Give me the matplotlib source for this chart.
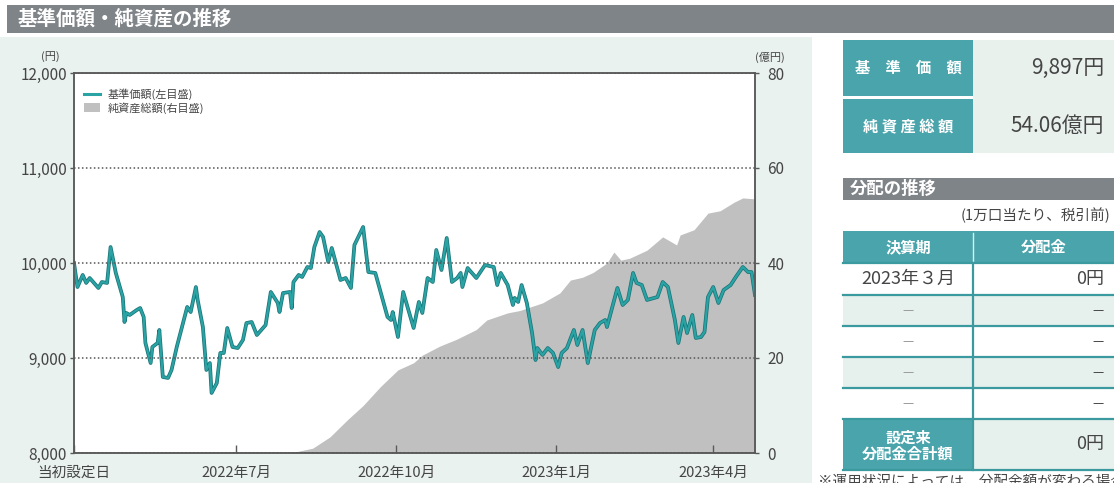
import matplotlib
matplotlib.use('Agg')
import matplotlib.pyplot as plt
import matplotlib.patheffects as pe
from matplotlib.patches import Rectangle, Patch
from matplotlib.lines import Line2D
import pandas as pd

plt.rcParams['font.family'] = ['Noto Sans CJK JP', 'DejaVu Sans']

# ---------------- data ----------------
nav_dates = [
    '2022-03-30', '2022-04-01', '2022-04-04', '2022-04-06', '2022-04-08', '2022-04-10', '2022-04-13',
    '2022-04-15', '2022-04-18', '2022-04-20', '2022-04-23', '2022-04-27', '2022-04-28', '2022-04-29',
    '2022-05-01', '2022-05-05', '2022-05-07', '2022-05-09', '2022-05-10', '2022-05-13', '2022-05-14',
    '2022-05-17', '2022-05-18', '2022-05-20', '2022-05-23', '2022-05-25', '2022-05-28', '2022-05-31',
    '2022-06-03', '2022-06-05', '2022-06-08', '2022-06-09', '2022-06-12', '2022-06-14', '2022-06-16',
    '2022-06-17', '2022-06-20', '2022-06-22', '2022-06-24', '2022-06-26', '2022-06-29', '2022-07-02',
    '2022-07-05', '2022-07-07', '2022-07-10', '2022-07-13', '2022-07-18', '2022-07-21', '2022-07-25',
    '2022-07-26', '2022-07-28', '2022-08-01', '2022-08-02', '2022-08-03', '2022-08-06', '2022-08-08',
    '2022-08-11', '2022-08-13', '2022-08-15', '2022-08-18', '2022-08-20', '2022-08-23', '2022-08-25',
    '2022-08-30', '2022-09-02', '2022-09-05', '2022-09-07', '2022-09-12', '2022-09-15', '2022-09-19',
    '2022-09-26', '2022-09-28', '2022-09-29', '2022-10-02', '2022-10-05', '2022-10-11', '2022-10-14',
    '2022-10-16', '2022-10-19', '2022-10-22', '2022-10-24', '2022-10-27', '2022-10-30', '2022-11-02',
    '2022-11-05', '2022-11-07', '2022-11-08', '2022-11-11', '2022-11-16', '2022-11-21', '2022-11-26',
    '2022-11-28', '2022-11-30', '2022-12-04', '2022-12-07', '2022-12-08', '2022-12-10', '2022-12-12',
    '2022-12-15', '2022-12-18', '2022-12-20', '2022-12-21', '2022-12-24', '2022-12-27', '2022-12-30',
    '2023-01-02', '2023-01-04', '2023-01-07', '2023-01-11', '2023-01-13', '2023-01-16', '2023-01-19',
    '2023-01-23', '2023-01-26', '2023-01-29', '2023-01-30', '2023-02-05', '2023-02-08', '2023-02-11',
    '2023-02-14', '2023-02-16', '2023-02-19', '2023-02-22', '2023-02-28', '2023-03-03', '2023-03-06',
    '2023-03-10', '2023-03-12', '2023-03-15', '2023-03-17', '2023-03-20', '2023-03-22', '2023-03-25',
    '2023-03-27', '2023-03-29', '2023-04-01', '2023-04-04', '2023-04-07', '2023-04-11', '2023-04-14',
    '2023-04-18', '2023-04-21', '2023-04-23', '2023-04-25',
]
nav_values = [
    10000, 9747, 9874, 9790, 9842, 9800, 9737,
    9800, 9790, 10168, 9895, 9642, 9379, 9474,
    9453, 9505, 9526, 9432, 9158, 8947, 9116,
    9158, 9295, 8800, 8790, 8874, 9116, 9326,
    9537, 9484, 9747, 9611, 9326, 8874, 8947,
    8632, 8737, 9053, 9053, 9316, 9116, 9105,
    9190, 9368, 9379, 9242, 9347, 9695, 9579,
    9484, 9684, 9695, 9526, 9800, 9874, 9853,
    9958, 9947, 10168, 10326, 10274, 10011, 10158,
    9821, 9842, 9737, 10189, 10379, 9905, 9895,
    9432, 9400, 9484, 9221, 9695, 9316, 9590,
    9474, 9842, 9800, 10137, 9926, 10263, 9800,
    9842, 9895, 9747, 9947, 9842, 9979, 9958,
    9768, 9895, 9768, 9558, 9632, 9590, 9768,
    9579, 9263, 8979, 9105, 9032, 9105, 9053,
    8905, 9053, 9105, 9295, 9137, 9295, 8947,
    9295, 9368, 9400, 9326, 9737, 9558, 9611,
    9895, 9790, 9768, 9611, 9642, 9800, 9747,
    9400, 9158, 9432, 9263, 9453, 9211, 9221,
    9274, 9642, 9747, 9579, 9716, 9768, 9853,
    9958, 9905, 9905, 9663,
]

assets_dates = [
    '2022-03-30', '2022-08-01', '2022-08-14', '2022-08-24', '2022-09-03', '2022-09-12', '2022-09-22',
    '2022-10-02', '2022-10-11', '2022-10-16', '2022-10-26', '2022-11-05', '2022-11-16', '2022-11-22',
    '2022-12-04', '2022-12-11', '2022-12-15', '2022-12-24', '2023-01-03', '2023-01-09', '2023-01-16',
    '2023-01-22', '2023-01-30', '2023-02-03', '2023-02-07', '2023-02-12', '2023-02-22', '2023-03-03',
    '2023-03-11', '2023-03-13', '2023-03-21', '2023-03-29', '2023-04-05', '2023-04-13', '2023-04-18',
    '2023-04-25',
]
assets_values = [
    0, 0, 1.0, 3.4, 7.0, 10.0, 14.0,
    17.5, 19.0, 20.6, 22.5, 24.0, 26.0, 28.0,
    29.5, 30.0, 30.5, 31.6, 33.7, 36.4, 37.0,
    38.0, 40.0, 42.3, 40.6, 41.0, 42.7, 45.5,
    43.8, 45.9, 47.0, 50.5, 51.0, 52.8, 53.7,
    53.5,
]

x_start, x_end = '2022-03-30', '2023-04-25'
left_ticks = [8000, 9000, 10000, 11000, 12000]
right_ticks = [0, 20, 40, 60, 80]
x_tick_dates = ['2022-03-30', '2022-07-01', '2022-10-01', '2023-01-01', '2023-04-01']
x_tick_labels = ['当初設定日', '2022年7月', '2022年10月', '2023年1月', '2023年4月']

chart_title = '基準価額・純資産の推移'
legend_labels = ['基準価額(左目盛)', '純資産総額(右目盛)']
summary_labels = ['基　準　価　額', '純 資 産 総 額']
summary_values = ['9,897円', '54.06億円']
dist_title = '分配の推移'
dist_note = '(1万口当たり、税引前)'
dist_header = ['決算期', '分配金']
dist_periods = ['2023年３月', '—', '—', '—', '—']
dist_amounts = ['0円', '—', '—', '—', '—']
dist_total_label = '設定来\n分配金合計額'
dist_total = '0円'
footnote = '※運用状況によっては、分配金額が変わる場合、あるいは分配金が支払われない場合があります。'

# ---------------- colours ----------------
MINT = '#e9f2ee'
BAR = '#7f8488'
TEAL = '#4aa4ac'
TEAL_LINE = '#3a9aa0'
TXT = '#454545'
LINE = '#2aa3a5'
AREA = '#c0c0c0'

W, H = 1114, 483
fig = plt.figure(figsize=(W / 100, H / 100), dpi=100)
fig.patch.set_facecolor('white')


def box(x0, y0, x1, y1, color, z=0):
    fig.add_artist(Rectangle((x0 / W, 1 - y1 / H), (x1 - x0) / W, (y1 - y0) / H,
                             transform=fig.transFigure, facecolor=color,
                             edgecolor='none', zorder=z))


def hline(x0, x1, y, color, lw=1.5, z=3):
    fig.add_artist(Line2D([x0 / W, x1 / W], [1 - y / H, 1 - y / H], transform=fig.transFigure,
                          color=color, lw=lw, zorder=z))


def vline(x, y0, y1, color, lw=1.5, z=3):
    fig.add_artist(Line2D([x / W, x / W], [1 - y0 / H, 1 - y1 / H], transform=fig.transFigure,
                          color=color, lw=lw, zorder=z))


def ftext(x, y, s, **kw):
    kw.setdefault('zorder', 5)
    fig.text(x / W, 1 - y / H, s, **kw)


# background blocks
box(0, 37, 812, 483, MINT)
box(7, 5, 1114, 33, BAR, 1)
ftext(18, 19, chart_title, color='white', fontsize=14, fontweight='bold', va='center', ha='left')

# ---------------- chart ----------------
ax_l, ax_r, ax_t, ax_b = 74, 755, 73, 453
rect = (ax_l / W, 1 - ax_b / H, (ax_r - ax_l) / W, (ax_b - ax_t) / H)
ax = fig.add_axes(rect)
ax2 = ax.twinx()
ax.set_zorder(3)
ax2.set_zorder(2)
ax.patch.set_visible(False)
ax2.patch.set_visible(True)
ax2.patch.set_facecolor('white')

nd = pd.to_datetime(nav_dates)
ad = pd.to_datetime(assets_dates)

ax2.fill_between(ad, 0, assets_values, color=AREA, lw=0)
ax.plot(nd, nav_values, color=LINE, lw=1.6, solid_joinstyle='round',
        path_effects=[pe.Stroke(linewidth=2.7, foreground='#1c7478'), pe.Normal()])

ax.set_xlim(pd.Timestamp(x_start), pd.Timestamp(x_end))
ax.set_ylim(left_ticks[0], left_ticks[-1])
ax2.set_ylim(right_ticks[0], right_ticks[-1])
ax.set_yticks(left_ticks)
ax.set_yticklabels([f'{v:,}' for v in left_ticks])
ax2.set_yticks(right_ticks)
ax2.set_yticklabels([str(v) for v in right_ticks])
ax.set_xticks(pd.to_datetime(x_tick_dates))
ax.set_xticklabels(x_tick_labels)

for a in (ax, ax2):
    for s in a.spines.values():
        s.set_color('#5a5a5a')
        s.set_linewidth(1.1)
ax.tick_params(axis='x', direction='in', length=6, width=1, colors='#5a5a5a',
               labelcolor=TXT, labelsize=10.5, pad=9)
ax.tick_params(axis='y', direction='out', length=3, width=1, colors='#5a5a5a',
               labelcolor=TXT, labelsize=11, pad=2)
ax2.tick_params(axis='y', direction='out', length=3, width=1, colors='#5a5a5a',
                labelcolor=TXT, labelsize=11, pad=6)
ax.yaxis.grid(True, color='#555555', linestyle=(0, (1, 1.6)), lw=1.1)
ax.set_axisbelow(False)

ftext(50, 57, '(円)', color=TXT, fontsize=8, ha='center', va='center')
ftext(770, 57, '(億円)', color=TXT, fontsize=8, ha='center', va='center')

handles = [Line2D([0], [0], color=LINE, lw=2.2),
           Patch(facecolor=AREA, edgecolor='none')]
ax.legend(handles, legend_labels, loc='upper left', bbox_to_anchor=(0.0, 0.985),
          frameon=False, fontsize=8, handlelength=1.4, handleheight=0.8,
          labelspacing=0.15, handletextpad=0.7, labelcolor=TXT)

# ---------------- right panel ----------------
px0, pmid, px1 = 843, 973, 1114
box(pmid, 40, px1, 153, '#e9f1ed', 1)
box(px0, 40, pmid, 96, TEAL, 2)
box(px0, 99, pmid, 153, TEAL, 2)
for i, (lab, val) in enumerate(zip(summary_labels, summary_values)):
    yc = [68, 126][i]
    ftext((px0 + pmid) / 2, yc, lab, color='white', fontsize=11, fontweight='bold',
          ha='center', va='center')
    ftext(1104, yc, val, color=TXT, fontsize=15, ha='right', va='center')

box(px0, 178, px1, 200, BAR, 1)
ftext(850, 189, dist_title, color='white', fontsize=12.5, fontweight='bold', ha='left', va='center')
ftext(1110, 215, dist_note, color=TXT, fontsize=10.5, ha='right', va='center')

row_edges = [231, 263, 295, 326, 357, 388, 419, 470]
box(px0, row_edges[0], px1, row_edges[1], TEAL, 1)
for j, hdr in enumerate(dist_header):
    xc = [(px0 + pmid) / 2, (pmid + px1) / 2][j]
    ftext(xc, (row_edges[0] + row_edges[1]) / 2, hdr, color='white', fontsize=11,
          fontweight='bold', ha='center', va='center')
vline(pmid, row_edges[0] + 2, row_edges[1] - 2, '#d8eef0', lw=1)
for i, (per, amt) in enumerate(zip(dist_periods, dist_amounts)):
    y0, y1 = row_edges[i + 1], row_edges[i + 2]
    box(px0, y0, px1, y1, 'white' if i % 2 == 0 else '#e6f0ec', 1)
    yc = (y0 + y1) / 2
    ftext((px0 + pmid) / 2, yc, per, color=TXT if per != '—' else '#9a9a9a',
          fontsize=13 if per != '—' else 9, ha='center', va='center')
    ftext(1104, yc, amt, color=TXT, fontsize=13 if amt != '—' else 9, ha='right', va='center')
box(px0, row_edges[6], pmid, row_edges[7], TEAL, 1)
box(pmid, row_edges[6], px1, row_edges[7], '#e6f0ec', 1)
ftext((px0 + pmid) / 2, (row_edges[6] + row_edges[7]) / 2 + 1, dist_total_label, color='white',
      fontsize=11, fontweight='bold', ha='center', va='center', linespacing=1.0)
ftext(1104, (row_edges[6] + row_edges[7]) / 2, dist_total, color=TXT, fontsize=13,
      ha='right', va='center')
for y in row_edges[1:]:
    hline(px0, px1, y, TEAL_LINE, lw=1.6)
vline(pmid, row_edges[1], row_edges[7], TEAL_LINE, lw=1.6)

ftext(818, 482, footnote, color=TXT, fontsize=10.5, ha='left', va='center')

fig.savefig('out.png', dpi=100, facecolor=fig.get_facecolor())
